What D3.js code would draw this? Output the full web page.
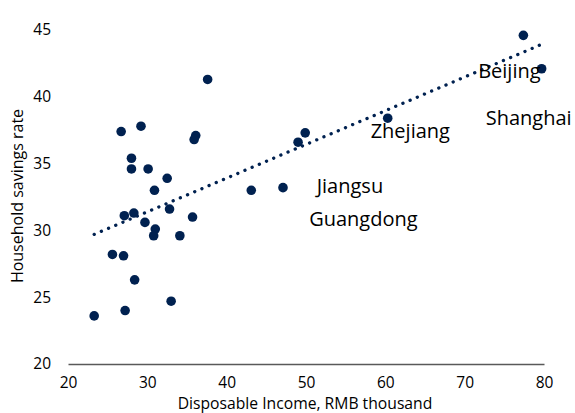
<!DOCTYPE html>
<html><head><meta charset="utf-8">
<script src="https://cdn.jsdelivr.net/npm/d3@7"></script>
<style>
html,body{margin:0;padding:0;background:#fff;}
svg{display:block;font-family:"Open Sans", Lato, sans-serif;}
</style></head>
<body><svg id="chart" width="575" height="413"></svg>
<script>
// Disposable income (RMB thousand) and household savings rate (%) by province
const income = [77.4, 79.7, 60.3, 49.9, 49.0, 37.6, 26.7, 29.2, 36.1, 35.9,
  28.0, 28.0, 30.1, 32.5, 30.9, 43.1, 47.1, 32.8, 27.1, 28.3,
  29.7, 35.7, 31.0, 30.8, 34.1, 25.6, 27.0, 28.4, 33.0, 27.2, 23.3];
const savings = [44.6, 42.1, 38.4, 37.3, 36.6, 41.3, 37.4, 37.8, 37.1, 36.8,
  35.4, 34.6, 34.6, 33.9, 33.0, 33.0, 33.2, 31.6, 31.1, 31.3,
  30.6, 31.0, 30.1, 29.6, 29.6, 28.2, 28.1, 26.3, 24.7, 24.0, 23.6];
const trendX = [23.3, 79.6];
const trendY = [29.7, 43.9];
const labelNames = ["Beijing", "Shanghai", "Zhejiang", "Jiangsu", "Guangdong"];
const labelX = [71.7, 72.65, 58.15, 51.35, 50.4];
const labelY = [41.4, 37.9, 36.9, 32.8, 30.3];
const xTicks = [20, 30, 40, 50, 60, 70, 80];
const yTicks = [20, 25, 30, 35, 40, 45];

const navy = "#002150";
const svg = d3.select("#chart");
const x = d3.scaleLinear().domain([20, 80]).range([68, 544]);
const y = d3.scaleLinear().domain([20, 45]).range([364, 30]);

// y axis (labels only)
const ya = svg.append("g").attr("transform", "translate(68,0)")
  .call(d3.axisLeft(y).tickValues(yTicks).tickSize(0).tickPadding(17));
ya.select(".domain").remove();
ya.selectAll("text").attr("font-size", 15.5).attr("fill", "#000").attr("font-family", "Open Sans");

// x axis
const xa = svg.append("g").attr("transform", "translate(0,364)")
  .call(d3.axisBottom(x).tickValues(xTicks).tickSize(0).tickPadding(13));
xa.select(".domain").attr("stroke", "#595959").attr("stroke-width", 1.5);
xa.selectAll("text").attr("font-size", 15.5).attr("fill", "#000").attr("font-family", "Open Sans");

// axis titles
svg.append("text").attr("x", 305).attr("y", 409).attr("text-anchor", "middle")
  .attr("font-size", 15.7).text("Disposable Income, RMB thousand");
svg.append("text").attr("transform", "translate(23,196) rotate(-90)")
  .attr("text-anchor", "middle").attr("font-size", 16).text("Household savings rate");

// trend line
const pts = trendX.map((v, i) => [x(v), y(trendY[i])]);
svg.append("path").attr("d", d3.line()(pts))
  .attr("fill", "none").attr("stroke", navy).attr("stroke-width", 3.3)
  .attr("stroke-linecap", "round").attr("stroke-dasharray", "0.1 7.7");

// points
svg.append("g").selectAll("circle").data(income).join("circle")
  .attr("cx", d => x(d)).attr("cy", (d, i) => y(savings[i]))
  .attr("r", 4.8).attr("fill", navy);

// labels
svg.append("g").selectAll("text").data(labelNames).join("text")
  .attr("x", (d, i) => x(labelX[i])).attr("y", (d, i) => y(labelY[i]))
  .attr("font-size", 20).attr("fill", "#000").text(d => d);
</script></body></html>
